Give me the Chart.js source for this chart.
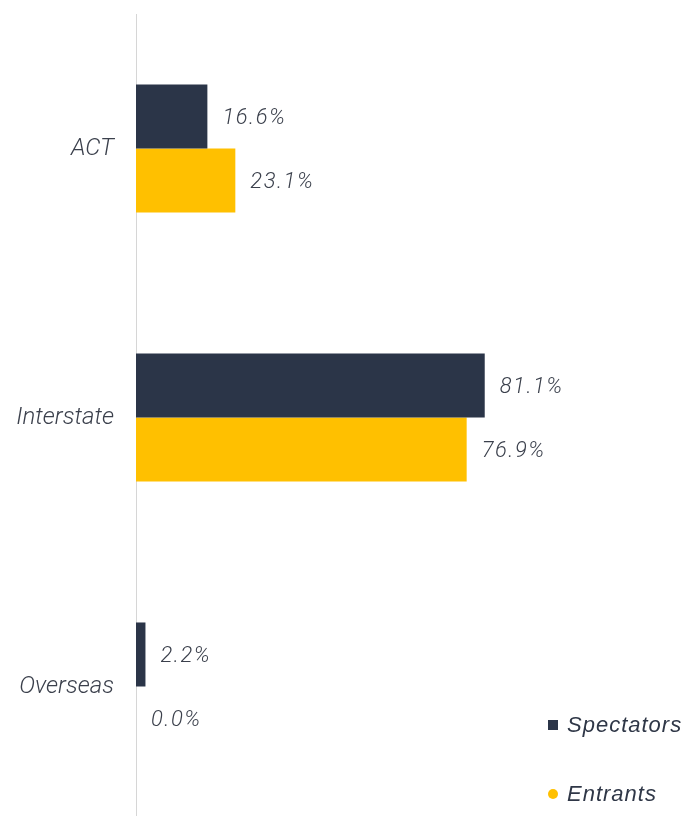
<!DOCTYPE html>
<html>
<head>
<meta charset="utf-8">
<script src="https://cdn.jsdelivr.net/npm/chart.js@4.4.1/dist/chart.umd.min.js"></script>
<style>
  html, body { margin: 0; padding: 0; background: #fff; overflow: hidden; }
  #wrap { width: 686px; height: 816px; overflow: hidden; }
</style>
</head>
<body>
<div id="wrap"><canvas id="myChart" width="686" height="821"></canvas></div>
<script>
// Share of visitors by origin
const categories = ["ACT", "Interstate", "Overseas"];
const spectators = [16.6, 81.1, 2.2];
const entrants = [23.1, 76.9, 0.0];
const seriesNames = ["Spectators", "Entrants"];

const navy = "#2b3548";
const yellow = "#ffc000";
const textColor = "#3b404c";

// percentage text at the end of every bar
const valueLabels = {
  id: "valueLabels",
  afterDatasetsDraw(chart) {
    const c = chart.ctx;
    c.save();
    c.font = "italic 300 22px Roboto";
    c.letterSpacing = "1.5px";
    c.fillStyle = textColor;
    c.textBaseline = "middle";
    c.textAlign = "left";
    chart.data.datasets.forEach((ds, i) => {
      chart.getDatasetMeta(i).data.forEach((bar, j) => {
        c.fillText(ds.data[j].toFixed(1) + "%", bar.x + 15, bar.y + 2);
      });
    });
    c.restore();
  }
};

// stacked legend in the lower right corner
const cornerLegend = {
  id: "cornerLegend",
  afterDraw(chart) {
    const c = chart.ctx;
    const rows = [
      { name: seriesNames[0], color: navy, y: 725, round: false },
      { name: seriesNames[1], color: yellow, y: 794, round: true }
    ];
    c.save();
    c.font = "italic 22px 'Liberation Sans'";
    c.letterSpacing = "1px";
    c.textBaseline = "middle";
    rows.forEach(r => {
      c.fillStyle = r.color;
      if (r.round) {
        c.beginPath();
        c.arc(553, r.y, 5, 0, Math.PI * 2);
        c.fill();
      } else {
        c.fillRect(548, r.y - 5, 10, 10);
      }
      c.fillStyle = "#2f3747";
      c.fillText(r.name, 567, r.y + 1);
    });
    c.restore();
  }
};

const ctx = document.getElementById("myChart").getContext("2d");
const chart = new Chart(ctx, {
  type: "bar",
  data: {
    labels: categories,
    datasets: [
      { label: seriesNames[0], data: spectators, backgroundColor: navy,
        barPercentage: 1, categoryPercentage: 0.476 },
      { label: seriesNames[1], data: entrants, backgroundColor: yellow,
        barPercentage: 1, categoryPercentage: 0.476 }
    ]
  },
  options: {
    indexAxis: "y",
    responsive: false,
    animation: false,
    layout: { padding: { top: 14, right: 120, bottom: 0, left: 0 } },
    plugins: {
      legend: { display: false },
      tooltip: { enabled: false }
    },
    scales: {
      x: { display: false, min: 0, max: 100 },
      y: {
        grid: { display: false, drawTicks: false },
        border: { display: true, color: "#d6d6d6", width: 1 },
        ticks: {
          color: textColor,
          font: { family: "Roboto", size: 24, style: "italic", weight: 300 },
          padding: 22
        },
        afterFit(scale) {
          scale.width = 136;
          scale.paddingTop = 0;
          scale.paddingBottom = 0;
        }
      }
    }
  },
  plugins: [valueLabels, cornerLegend]
});
</script>
</body>
</html>
